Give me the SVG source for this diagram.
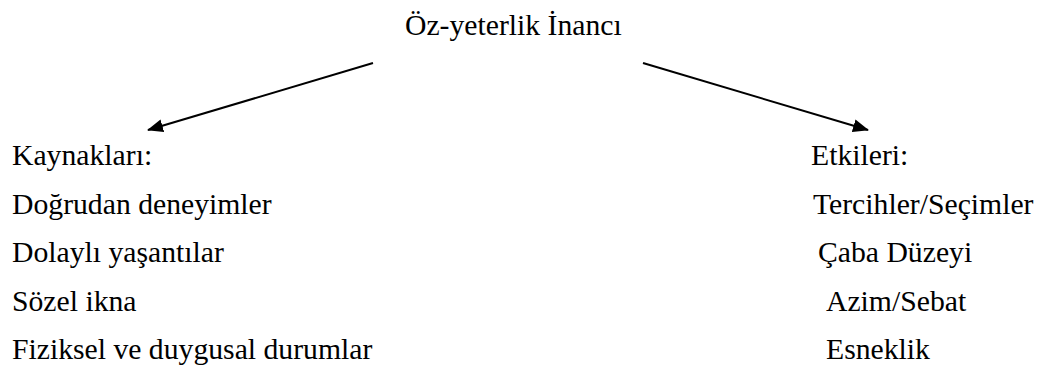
<svg xmlns="http://www.w3.org/2000/svg" width="1044" height="375" viewBox="0 0 1044 375">
<style>
.t{font-family:'Liberation Serif','Tinos','DejaVu Serif',serif;font-size:29.7px;fill:#000}
.c{stroke:#000;stroke-width:2;fill:none}
</style>
<defs>
<marker id="ah" viewBox="0 0 16 13" refX="15" refY="6.5" markerWidth="16" markerHeight="13" markerUnits="userSpaceOnUse" orient="auto"><path d="M0,0 L16,6.5 L0,13 z" fill="#000"/></marker>
</defs>
<rect width="1044" height="375" fill="#fff"/>
<g id="connectors">
<line class="c" x1="373" y1="63" x2="148" y2="130" marker-end="url(#ah)"/>
<line class="c" x1="643" y1="63" x2="868" y2="130" marker-end="url(#ah)"/>
</g>
<g id="title" class="t"><text x="405" y="35">Öz-yeterlik İnancı</text></g>
<g id="sources" class="t">
<text x="12" y="165">Kaynakları:</text>
<text x="12" y="213.5">Doğrudan deneyimler</text>
<text x="12" y="262">Dolaylı yaşantılar</text>
<text x="12" y="310.5">Sözel ikna</text>
<text x="12" y="359">Fiziksel ve duygusal durumlar</text>
</g>
<g id="effects" class="t">
<text x="811" y="165">Etkileri:</text>
<text x="813" y="213.5">Tercihler/Seçimler</text>
<text x="818" y="262">Çaba Düzeyi</text>
<text x="826" y="310.5">Azim/Sebat</text>
<text x="826" y="359">Esneklik</text>
</g>
</svg>
